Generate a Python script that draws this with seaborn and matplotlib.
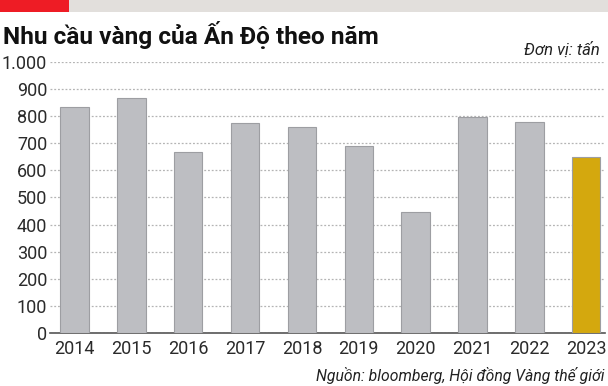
import numpy as np
import pandas as pd
import seaborn as sns
import matplotlib.pyplot as plt
from matplotlib.patches import Rectangle

years = ['2014', '2015', '2016', '2017', '2018', '2019', '2020', '2021', '2022', '2023']
demand = [834, 867, 668, 775, 760, 690, 446, 797, 778, 650]
bar_colors = ['#bdbec2'] * 9 + ['#d4a80e']
yticks = [0, 100, 200, 300, 400, 500, 600, 700, 800, 900, 1000]
ytick_labels = ['0', '100', '200', '300', '400', '500', '600', '700', '800', '900', '1.000']

sns.set_style('white')
plt.rcParams['font.family'] = ['Roboto', 'DejaVu Sans']

df = pd.DataFrame({'year': years, 'demand': demand})

fig = plt.figure(figsize=(6.08, 3.86), dpi=100)
# top strip
fig.patches.append(Rectangle((0, 1 - 12 / 386), 1, 12 / 386, transform=fig.transFigure,
                             facecolor='#e2dfdc', edgecolor='none'))
fig.patches.append(Rectangle((0, 1 - 12 / 386), 69 / 608, 12 / 386, transform=fig.transFigure,
                             facecolor='#ee1c25', edgecolor='none'))

ax = fig.add_axes([50 / 608, 53 / 386, 555 / 608, 271 / 386])
sns.barplot(data=df, x='year', y='demand', hue='year', palette=bar_colors, legend=False,
            width=0.5, edgecolor='#9d9ea2', linewidth=0.8, saturation=1, ax=ax, zorder=3)

ax.set_ylim(0, 1000)
ax.set_xlim(-0.43, 9.33)
ax.set_yticks(yticks)
ax.set_yticklabels(ytick_labels)
ax.yaxis.grid(True, linestyle=(0, (1.5, 1.5)), color='#b4b4b4', linewidth=0.9, zorder=0)
ax.set_axisbelow(True)
for s in ['top', 'right', 'left']:
    ax.spines[s].set_visible(False)
ax.spines['bottom'].set_color('#555555')
ax.spines['bottom'].set_linewidth(1.2)
ax.tick_params(axis='both', length=0, labelsize=13, colors='#2a2a2a')
ax.tick_params(axis='y', pad=2)
ax.tick_params(axis='x', pad=5)
ax.set_xlabel('')
ax.set_ylabel('')

fig.text(3 / 608, 1 - 35 / 386, 'Nhu cầu vàng của Ấn Độ theo năm', fontsize=17.6, fontweight='bold',
         va='center', ha='left', color='#111111')
fig.text(600 / 608, 1 - 50 / 386, 'Đơn vị: tấn', fontsize=12, style='italic',
         va='center', ha='right', color='#222222')
fig.text(604 / 608, 1 - 376 / 386, 'Nguồn: bloomberg, Hội đồng Vàng thế giới', fontsize=11.3,
         style='italic', va='center', ha='right', color='#222222')

fig.savefig('out.png', dpi=100)
